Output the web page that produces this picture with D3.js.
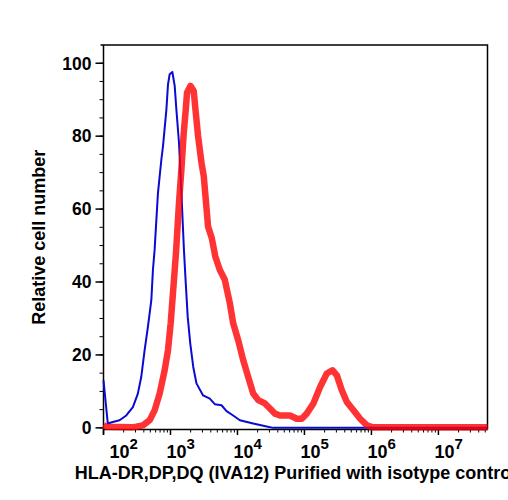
<!DOCTYPE html>
<html>
<head>
<meta charset="utf-8">
<script src="https://cdn.jsdelivr.net/npm/d3@7"></script>
<style>
  html,body{margin:0;padding:0;background:#fff;}
  svg text{font-family:"Liberation Sans",Arial,Helvetica,sans-serif;font-weight:bold;fill:#000;}
</style>
</head>
<body>
<svg id="chart" width="508" height="500"></svg>
<script>
// log10 of fluorescence intensity, and relative cell number
const isoLog = [2.0, 2.064, 2.139, 2.24, 2.34, 2.439, 2.513, 2.564, 2.614, 2.663, 2.714, 2.738, 2.763, 2.813, 2.864, 2.888, 2.939, 2.963, 2.988, 3.028, 3.063, 3.088, 3.127, 3.163, 3.201, 3.228, 3.257, 3.295, 3.34, 3.388, 3.487, 3.587, 3.662, 3.762, 3.837, 3.936, 4.036, 4.235, 4.436, 4.534, 7.733];
const isoVal = [13, 1.2, 1.6, 2.1, 3.4, 5.7, 9.4, 14, 21.3, 27.7, 35, 43.3, 48.8, 64.4, 73.6, 77.2, 87.3, 94.2, 97, 97.6, 93.8, 87.3, 78.2, 64.4, 48.8, 39.7, 30.5, 23.2, 16.7, 12.2, 8.9, 8.0, 6.5, 6.2, 4.6, 3.4, 2.1, 1.2, 0.4, 0, 0];

const hlaLog = [2.0, 2.045, 2.434, 2.49, 2.588, 2.689, 2.763, 2.838, 2.913, 2.963, 3.003, 3.037, 3.063, 3.085, 3.127, 3.163, 3.198, 3.228, 3.247, 3.298, 3.347, 3.373, 3.412, 3.463, 3.497, 3.527, 3.561, 3.617, 3.669, 3.737, 3.811, 3.886, 3.936, 4.01, 4.085, 4.16, 4.235, 4.31, 4.41, 4.485, 4.56, 4.635, 4.784, 4.885, 4.96, 5.034, 5.133, 5.234, 5.334, 5.418, 5.484, 5.558, 5.633, 5.732, 5.832, 5.933, 6.007, 7.733];
const hlaVal = [0.8, 0.3, 0.2, 0.3, 0.7, 2.1, 4.8, 9.4, 15.8, 21.3, 28.7, 36.9, 43.3, 48.8, 61.7, 70.8, 80.9, 87.3, 91.9, 93.8, 92.4, 87.3, 80, 72.7, 69, 62.6, 55.2, 52, 47, 43.3, 40.6, 34.2, 28.7, 24.1, 18.6, 14, 9.4, 7.6, 6.7, 5.3, 3.9, 3.4, 3.4, 2.5, 2.5, 3.9, 6.7, 11.2, 14.9, 15.8, 14.4, 10.3, 7.1, 4.8, 2.5, 0.7, 0.2, 0.2];

const xDecades = [2, 3, 4, 5, 6, 7];
const yTicks = [0, 20, 40, 60, 80, 100];
const xTitle = 'HLA-DR,DP,DQ (IVA12) Purified with isotype control';
const yTitle = 'Relative cell number';

const plot = { left: 103.5, right: 487.5, top: 45, bottom: 429.5 };
const svg = d3.select('#chart');

const x = d3.scaleLog().domain([1e2, Math.pow(10, 7.733)]).range([plot.left, plot.right]);
const y = d3.scaleLinear().domain([-0.45, 105]).range([plot.bottom, plot.top]);

svg.append('rect').attr('width', 508).attr('height', 500).attr('fill', '#fff');

// frame
svg.append('path')
    .attr('d', `M${plot.left - 3},${plot.top}H${plot.right}V${plot.bottom}`)
    .attr('fill', 'none').attr('stroke', '#000').attr('stroke-width', 1.5);

// y axis
const yMinor = d3.range(0, 105, 5);
const yAxis = svg.append('g').attr('transform', `translate(${plot.left},0)`);
yAxis.append('line').attr('y1', plot.top).attr('y2', plot.bottom + 5)
    .attr('stroke', '#000').attr('stroke-width', 1.5);
yAxis.selectAll('line.minor').data(yMinor).join('line').attr('class', 'minor')
    .attr('x1', -4).attr('x2', 0).attr('y1', d => y(d)).attr('y2', d => y(d))
    .attr('stroke', '#000').attr('stroke-width', 1);
yAxis.selectAll('line.major').data(yTicks).join('line').attr('class', 'major')
    .attr('x1', -8).attr('x2', 0).attr('y1', d => y(d)).attr('y2', d => y(d))
    .attr('stroke', '#000').attr('stroke-width', 1.5);
yAxis.selectAll('text').data(yTicks).join('text')
    .attr('x', -12).attr('y', d => y(d)).attr('dy', '0.36em')
    .attr('text-anchor', 'end').style('font-size', '17.5px')
    .text(d => d);

// x axis
const xMinor = [];
for (let e = 2; e <= 7; e++) {
    for (let m = 2; m <= 9; m++) {
        const v = m * Math.pow(10, e);
        if (x(v) <= plot.right) xMinor.push(v);
    }
}
const xAxis = svg.append('g').attr('transform', `translate(0,${plot.bottom})`);
xAxis.append('line').attr('x1', plot.left).attr('x2', plot.right)
    .attr('stroke', '#000').attr('stroke-width', 1.5);
xAxis.selectAll('line.minor').data(xMinor).join('line').attr('class', 'minor')
    .attr('x1', d => x(d)).attr('x2', d => x(d)).attr('y1', 0).attr('y2', 3)
    .attr('stroke', '#000').attr('stroke-width', 1);
xAxis.selectAll('line.major').data(xDecades).join('line').attr('class', 'major')
    .attr('x1', d => x(Math.pow(10, d))).attr('x2', d => x(Math.pow(10, d)))
    .attr('y1', 0).attr('y2', 5.5)
    .attr('stroke', '#000').attr('stroke-width', 1.5);
const lbl = xAxis.selectAll('text').data(xDecades).join('text')
    .attr('x', (d, i) => x(Math.pow(10, d)) + (i === 0 ? 6 : -4))
    .attr('y', 28).style('font-size', '18px');
lbl.append('tspan').text('10');
lbl.append('tspan').attr('dy', -9).style('font-size', '15px').text(d => d);

// titles
svg.append('text')
    .attr('x', (plot.left + plot.right) / 2).attr('y', 479)
    .attr('text-anchor', 'middle').style('font-size', '18px')
    .text(xTitle);
svg.append('text')
    .attr('transform', `translate(45,${(plot.top + plot.bottom) / 2}) rotate(-90)`)
    .attr('text-anchor', 'middle').style('font-size', '18px')
    .text(yTitle);

// histograms
const line = d3.line()
    .x(d => x(Math.pow(10, d[0])))
    .y(d => y(d[1]));

svg.append('path')
    .datum(d3.zip(isoLog, isoVal))
    .attr('d', line)
    .attr('fill', 'none').attr('stroke', '#0a0ad2').attr('stroke-width', 2)
    .attr('stroke-linejoin', 'round');

svg.append('path')
    .datum(d3.zip(hlaLog, hlaVal))
    .attr('d', line)
    .attr('fill', 'none').attr('stroke', '#ff0000').attr('stroke-opacity', 0.8)
    .attr('stroke-width', 6.5).attr('stroke-linejoin', 'round');
</script>
</body>
</html>
